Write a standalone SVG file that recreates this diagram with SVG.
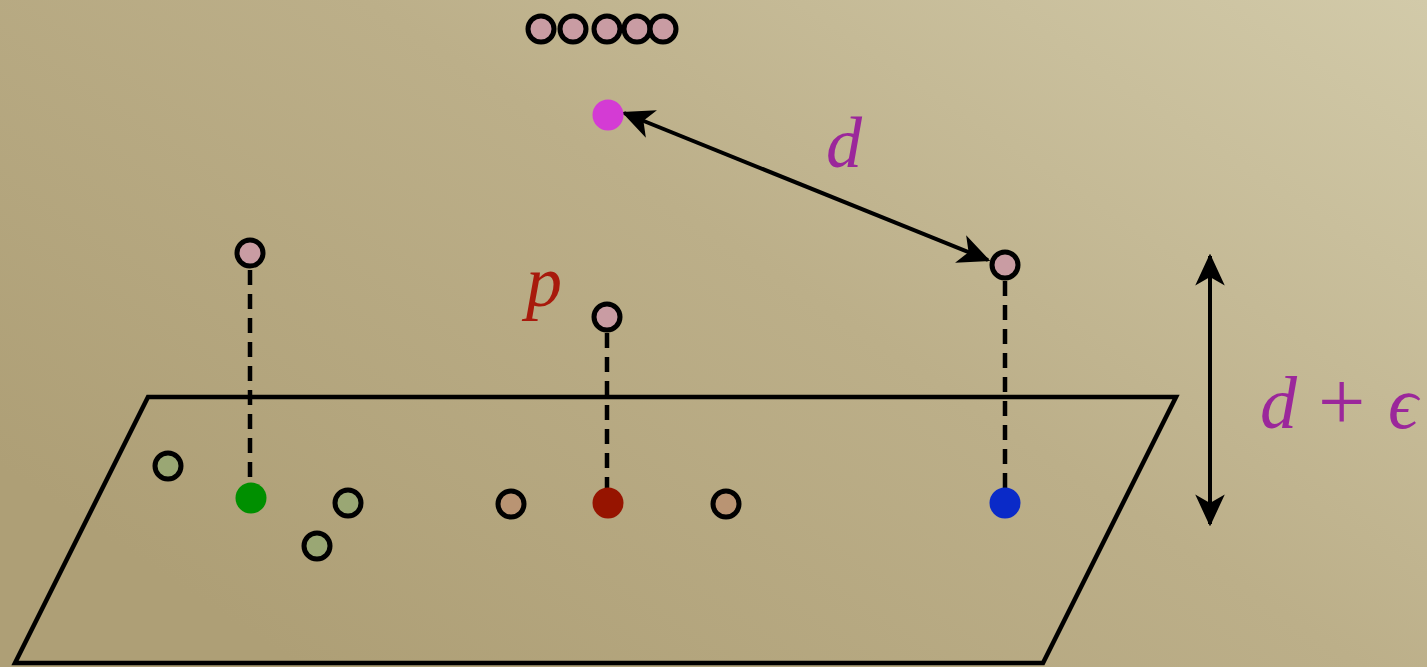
<svg xmlns="http://www.w3.org/2000/svg" width="1427" height="667" viewBox="0 0 1427 667">
<defs>
<linearGradient id="bg" x1="0" y1="0.7" x2="1" y2="0">
<stop offset="0" stop-color="#ae9f76"/>
<stop offset="0.5" stop-color="#bcaf89"/>
<stop offset="1" stop-color="#d2caa9"/>
</linearGradient>
<marker id="ah" viewBox="0 0 26 24" refX="24" refY="12" markerWidth="8" markerHeight="7.4" markerUnits="strokeWidth" orient="auto-start-reverse">
<path d="M0,0 L26,12 L0,24 L7,12 Z" fill="#000"/>
</marker>
<style>
.ring{stroke:#000;stroke-width:5}
.pink{fill:#c99ca3}
.sage{fill:#9aa774}
.tan{fill:#b99473}
.dash{stroke:#000;stroke-width:4.5;stroke-dasharray:15 9;fill:none}
.arrow{stroke:#000;stroke-width:4;fill:none}
.math{font-family:"Liberation Serif",serif;font-style:italic}
</style>
</defs>
<rect width="1427" height="667" fill="url(#bg)"/>
<g id="plane">
<path d="M148,397 L1176,397 L1043,663 L15,663 Z" fill="none" stroke="#000" stroke-width="4.5"/>
</g>
<g id="connectors">
<line class="dash" x1="250" y1="270" x2="250" y2="484"/>
<line class="dash" x1="607" y1="333" x2="607" y2="489"/>
<line class="dash" x1="1005" y1="281" x2="1005" y2="489"/>
<line class="arrow" x1="624" y1="113" x2="988" y2="260" marker-start="url(#ah)" marker-end="url(#ah)"/>
<line class="arrow" x1="1210" y1="256" x2="1210" y2="524" marker-start="url(#ah)" marker-end="url(#ah)"/>
</g>
<g id="top-row">
<circle class="ring pink" cx="541" cy="29" r="13"/>
<circle class="ring pink" cx="573" cy="29" r="13"/>
<circle class="ring pink" cx="607" cy="29" r="13"/>
<circle class="ring pink" cx="637" cy="29" r="13"/>
<circle class="ring pink" cx="663" cy="29" r="13"/>
</g>
<g id="magenta-point"><circle cx="608" cy="115" r="15.5" fill="#d43bd4"/></g>
<g id="left-point"><circle class="ring pink" cx="250" cy="253" r="13"/></g>
<g id="p-point"><circle class="ring pink" cx="607" cy="317" r="13"/></g>
<g id="right-point"><circle class="ring pink" cx="1005" cy="265" r="13"/></g>
<g id="sage-1"><circle class="ring sage" cx="168" cy="466" r="13"/></g>
<g id="sage-2"><circle class="ring sage" cx="348" cy="503" r="13"/></g>
<g id="sage-3"><circle class="ring sage" cx="317" cy="546" r="13"/></g>
<g id="green-point"><circle cx="251" cy="498" r="15.5" fill="#008f00"/></g>
<g id="tan-1"><circle class="ring tan" cx="511" cy="504" r="13"/></g>
<g id="tan-2"><circle class="ring tan" cx="726" cy="504" r="13"/></g>
<g id="red-point"><circle cx="608" cy="503" r="15.5" fill="#961400"/></g>
<g id="blue-point"><circle cx="1005" cy="503" r="15.5" fill="#0a2ac8"/></g>
<g id="labels">
<text class="math" x="826" y="167" font-size="72" fill="#9b279b">d</text>
<text class="math" x="526" y="306" font-size="72" fill="#a81a0c">p</text>
<text class="math" x="1260" y="428" font-size="74" fill="#9b279b">d</text>
<text x="1318" y="430" font-size="84" fill="#9b279b" font-family="Liberation Serif, serif">+</text>
<text class="math" x="1388" y="428" font-size="74" fill="#9b279b">ϵ</text>
</g>
</svg>
